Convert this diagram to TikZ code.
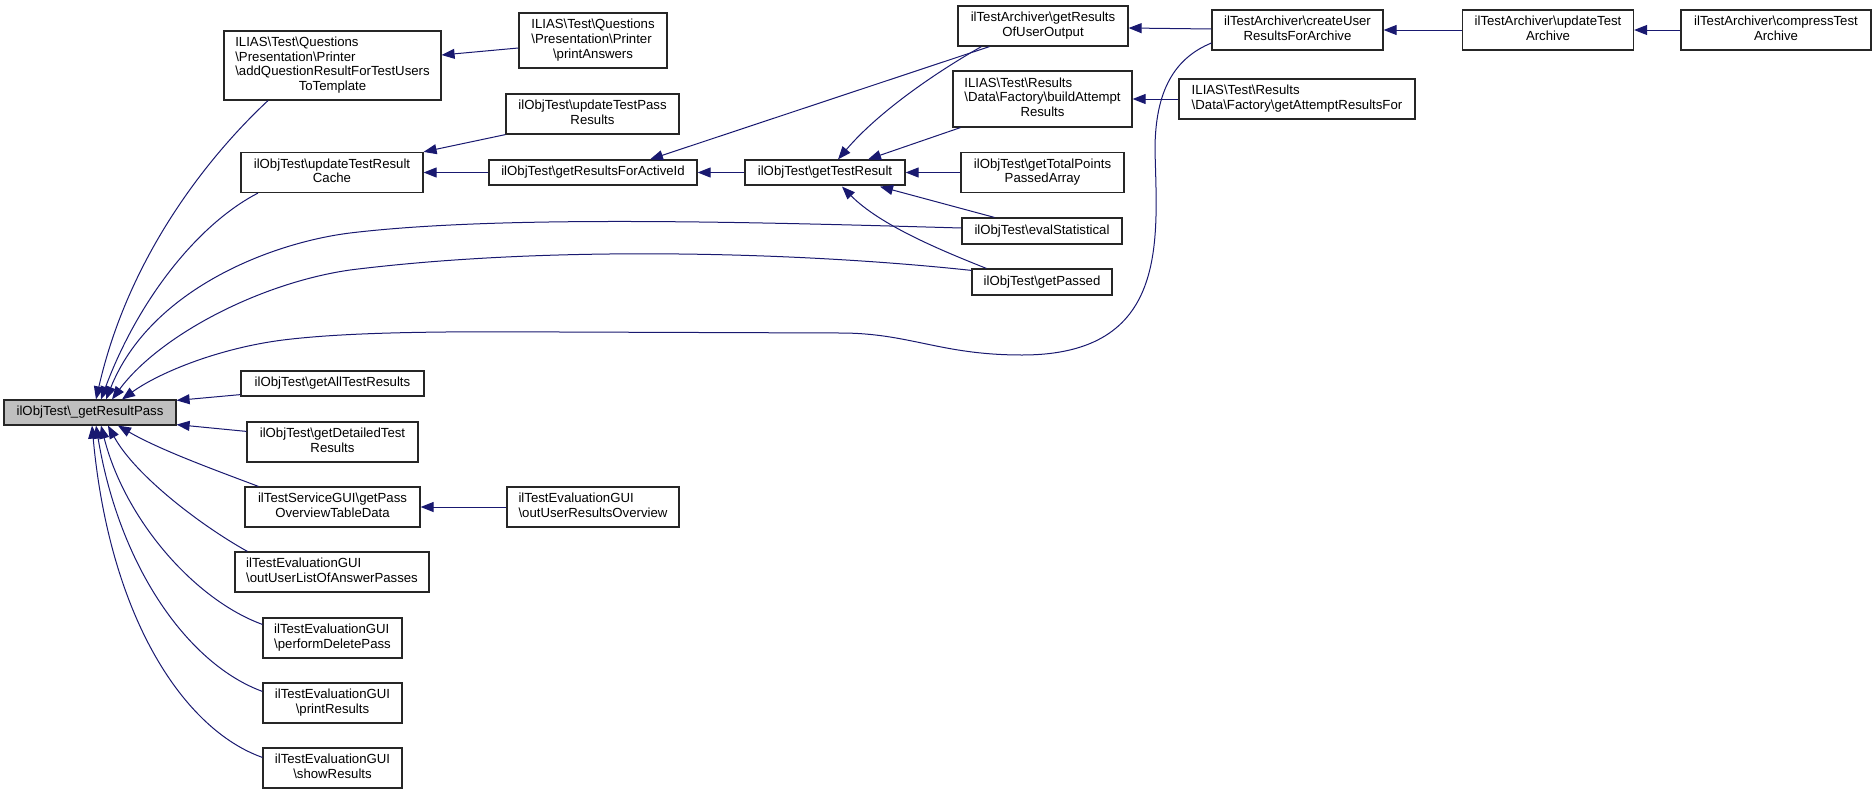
\documentclass[tikz,border=0pt]{standalone}
\usepackage{fontspec}
\setmainfont{Liberation Sans}
\usetikzlibrary{arrows.meta,calc}
\definecolor{edgec}{RGB}{25,25,112}
\definecolor{grpfill}{RGB}{191,191,191}
\newcommand{\bs}{\textbackslash}
\newcommand{\nlab}[2]{\begin{tabular}{@{}l@{}}#1\\\multicolumn{1}{@{}c@{}}{#2}\end{tabular}}
\begin{document}
\begin{tikzpicture}[x=1pt,y=-1pt]
\tikzset{
  nbox/.style={draw=black!85, line width=1.2pt, fill=white, inner sep=0pt,
    font=\fontsize{13.2}{14.7}\selectfont},
  conn/.style={draw=edgec, line width=1pt, -{Triangle[length=13pt,width=10pt]}}
}
\useasboundingbox (0,0) rectangle (1876,795);
\fill[white] (0,0) rectangle (1876,795);

% nodes
\node[nbox,minimum width=172pt,minimum height=25pt,fill=grpfill] (grp) at (90,412.5) {ilObjTest\bs\_getResultPass};
\node[nbox,minimum width=217pt,minimum height=69pt] (addq) at (332.5,65.5) {\nlab{ILIAS\bs Test\bs Questions\\\bs Presentation\bs Printer\\\bs addQuestionResultForTestUsers}{ToTemplate}};
\node[nbox,minimum width=148pt,minimum height=55pt] (printans) at (593,40.5) {\nlab{ILIAS\bs Test\bs Questions\\\bs Presentation\bs Printer}{\bs printAnswers}};
\node[nbox,minimum width=173pt,minimum height=40pt] (updpass) at (592.5,114) {\nlab{ilObjTest\bs updateTestPass}{Results}};
\node[nbox,minimum width=182pt,minimum height=40pt] (updcache) at (332,172.5) {\nlab{ilObjTest\bs updateTestResult}{Cache}};
\node[nbox,minimum width=208pt,minimum height=25pt] (activeid) at (593,172.5) {ilObjTest\bs getResultsForActiveId};
\node[nbox,minimum width=183pt,minimum height=25pt] (getall) at (332.5,383.5) {ilObjTest\bs getAllTestResults};
\node[nbox,minimum width=171pt,minimum height=40pt] (detailed) at (332.5,442) {\nlab{ilObjTest\bs getDetailedTest}{Results}};
\node[nbox,minimum width=175pt,minimum height=40pt] (passov) at (332.5,507) {\nlab{ilTestServiceGUI\bs getPass}{OverviewTableData}};
\node[nbox,minimum width=172pt,minimum height=40pt] (outover) at (593,507) {\nlab{ilTestEvaluationGUI}{\bs outUserResultsOverview}};
\node[nbox,minimum width=194pt,minimum height=40pt] (listans) at (332,572) {\nlab{ilTestEvaluationGUI}{\bs outUserListOfAnswerPasses}};
\node[nbox,minimum width=139pt,minimum height=40pt] (perfdel) at (332.5,638) {\nlab{ilTestEvaluationGUI}{\bs performDeletePass}};
\node[nbox,minimum width=139pt,minimum height=40pt] (printres) at (332.5,703) {\nlab{ilTestEvaluationGUI}{\bs printResults}};
\node[nbox,minimum width=139pt,minimum height=40pt] (showres) at (332.5,768) {\nlab{ilTestEvaluationGUI}{\bs showResults}};
\node[nbox,minimum width=170pt,minimum height=40pt] (useroutput) at (1043,26) {\nlab{ilTestArchiver\bs getResults}{OfUserOutput}};
\node[nbox,minimum width=179pt,minimum height=56pt] (buildatt) at (1042.5,99) {\nlab{ILIAS\bs Test\bs Results\\\bs Data\bs Factory\bs buildAttempt}{Results}};
\node[nbox,minimum width=160pt,minimum height=25pt] (testresult) at (825,172.5) {ilObjTest\bs getTestResult};
\node[nbox,minimum width=163pt,minimum height=40pt] (totalpts) at (1042.5,172.5) {\nlab{ilObjTest\bs getTotalPoints}{PassedArray}};
\node[nbox,minimum width=160pt,minimum height=26pt] (evalstat) at (1042,231) {ilObjTest\bs evalStatistical};
\node[nbox,minimum width=140pt,minimum height=26pt] (passed) at (1042,282) {ilObjTest\bs getPassed};
\node[nbox,minimum width=171pt,minimum height=40pt] (createuser) at (1297.5,30) {\nlab{ilTestArchiver\bs createUser}{ResultsForArchive}};
\node[nbox,minimum width=236pt,minimum height=40pt] (attemptfor) at (1297,99) {\nlab{ILIAS\bs Test\bs Results}{\bs Data\bs Factory\bs getAttemptResultsFor}};
\node[nbox,minimum width=171pt,minimum height=40pt] (updarchive) at (1548,30) {\nlab{ilTestArchiver\bs updateTest}{Archive}};
\node[nbox,minimum width=190pt,minimum height=40pt] (compress) at (1776,30) {\nlab{ilTestArchiver\bs compressTest}{Archive}};

% connectors into _getResultPass (top)
\draw[conn] ($(addq.south)+(-64.5,0)$) .. controls (215,150) and (130,250) .. ($(grp.north)+(6,0)$);
\draw[conn] ($(updcache.south)+(-74,0)$) .. controls (198,224) and (138,300) .. ($(grp.north)+(11,0)$);
\draw[conn] ($(evalstat.west)+(0,-3)$) .. controls (750,222) and (500,215) .. (350,233) .. controls (270,243) and (150,290) .. ($(grp.north)+(16,0)$);
\draw[conn] ($(passed.north west)+(0,2)$) .. controls (800,252) and (550,245) .. (350,270) .. controls (260,283) and (160,335) .. ($(grp.north)+(22,0)$);
\draw[conn] ($(createuser.west)+(0,13)$) .. controls (1175,58) and (1155,90) .. (1155,150) .. controls (1157,240) and (1170,355) .. (1022,355) .. controls (940,355) and (910,333) .. (840,333) -- (560,332) .. controls (420,331) and (340,333) .. (283,340) .. controls (220,348) and (160,372) .. ($(grp.north)+(32,0)$);
\draw[conn] ($(getall.south west)+(0,-2)$) -- ($(grp.north east)+(0,1)$);
% connectors into _getResultPass (bottom)
\draw[conn] ($(detailed.north west)+(0,10)$) -- ($(grp.south east)+(0,-1)$);
\draw[conn] ($(passov.north west)+(14,0)$) .. controls (215,470) and (160,450) .. ($(grp.south)+(28,0)$);
\draw[conn] ($(listans.north west)+(13,0)$) .. controls (200,525) and (135,475) .. ($(grp.south)+(18,0)$);
\draw[conn] ($(perfdel.north west)+(0,7)$) .. controls (195,600) and (125,520) .. ($(grp.south)+(11,0)$);
\draw[conn] ($(printres.north west)+(0,9)$) .. controls (190,665) and (120,570) .. ($(grp.south)+(6,0)$);
\draw[conn] ($(showres.north west)+(0,10)$) .. controls (185,730) and (110,620) .. ($(grp.south)+(2,0)$);

% other connectors
\draw[conn] ($(printans.west)+(0,7.5)$) -- ($(addq.east)+(0,-10.5)$);
\draw[conn] (updpass.south west) -- (updcache.north east);
\draw[conn] (activeid.west) -- (updcache.east);
\draw[conn] ($(useroutput.south west)+(32,0)$) -- ($(activeid.north)+(57,0)$);
\draw[conn] (testresult.west) -- (activeid.east);
\draw[conn] ($(useroutput.south west)+(24,0)$) .. controls (940,70) and (880,110) .. ($(testresult.north)+(13,0)$);
\draw[conn] ($(buildatt.south west)+(8,0)$) -- ($(testresult.north)+(43,0)$);
\draw[conn] (totalpts.west) -- (testresult.east);
\draw[conn] ($(evalstat.north west)+(33,0)$) -- ($(testresult.south)+(55,1)$);
\draw[conn] ($(passed.north west)+(15,0)$) .. controls (940,250) and (880,225) .. ($(testresult.south)+(17,1)$);
\draw[conn] ($(createuser.west)+(0,-1)$) -- ($(useroutput.east)+(0,2)$);
\draw[conn] (attemptfor.west) -- (buildatt.east);
\draw[conn] (updarchive.west) -- (createuser.east);
\draw[conn] (compress.west) -- (updarchive.east);
\draw[conn] (outover.west) -- (passov.east);
\end{tikzpicture}
\end{document}
